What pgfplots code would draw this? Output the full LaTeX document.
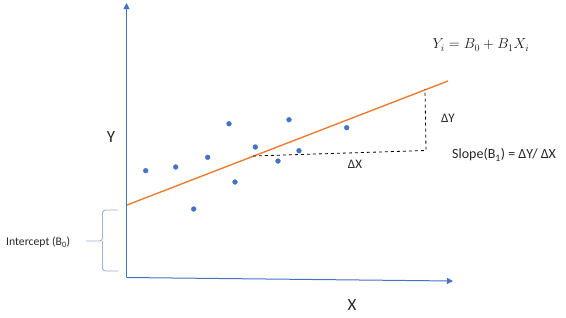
\documentclass[border=0pt]{standalone}
\usepackage{pgfplots}
\pgfplotsset{compat=1.18}
\usepackage{fontspec}
\setmainfont{Carlito}
\usetikzlibrary{arrows.meta}
\definecolor{xlblue}{HTML}{4472C4}
\definecolor{xlorange}{HTML}{ED7D31}
\definecolor{bracec}{HTML}{9DB3DA}
\begin{document}
\begin{tikzpicture}
\begin{axis}[
  scale only axis, width=566pt, height=317pt,
  xmin=0, xmax=566, ymin=0, ymax=317, y dir=reverse,
  axis lines=none, clip=false,
]
% frame to fix bounding box
\addplot[draw=none] coordinates {(0,0) (566,317)};
% axes
\addplot[xlblue, line width=1pt, -{Triangle[width=6pt,length=6pt]}] coordinates {(126.5,277) (126.5,3)};
\addplot[xlblue, line width=1pt, -{Triangle[width=6pt,length=6pt]}] coordinates {(126.5,277.5) (453,281)};
% regression line
\addplot[xlorange, line width=1.4pt] coordinates {(127,205) (448,81)};
% dashed triangle
\addplot[black, dashed, line width=0.8pt] coordinates {(253,156) (426,150.5) (425,89)};
% points
\addplot[only marks, mark=*, mark size=2.4pt, color=xlblue] coordinates {
(145.7,170.7) (175.7,167) (193.7,209) (207.7,157.3) (229,123.7) (235,182)
(255.3,147) (278,161) (289,119.7) (299,150.7) (346.7,127.7)};
% brace
\addplot[bracec, line width=0.9pt, rounded corners=3pt] coordinates {(118,210) (102.5,210) (102.5,241) (86,241)};
\addplot[bracec, line width=0.9pt, rounded corners=3pt] coordinates {(102.5,241) (102.5,271) (118,271)};
% labels
\node[font=\fontsize{17}{20}\selectfont, text=black!85] at (axis cs:111,137) {Y};
\node[font=\fontsize{17}{20}\selectfont, text=black!85] at (axis cs:352,305) {X};
\node[font=\fontsize{13}{15}\selectfont, text=black!85] at (axis cs:448,118) {ΔY};
\node[font=\fontsize{13}{15}\selectfont, text=black!85] at (axis cs:355,164) {ΔX};
\node[font=\fontsize{14}{16}\selectfont, text=black!85, anchor=west, inner sep=0pt] at (axis cs:452,155) {Slope(B\textsubscript{1}) = ΔY/ ΔX};
\node[font=\fontsize{11.7}{14}\selectfont, text=black!85, anchor=west, inner sep=0pt] at (axis cs:6,242) {Intercept (B\textsubscript{0})};
\node[font=\fontsize{14.6}{17}\selectfont, text=black!90] at (axis cs:481,45) {$Y_i = B_0 + B_1 X_i$};
\end{axis}
\end{tikzpicture}
\end{document}
